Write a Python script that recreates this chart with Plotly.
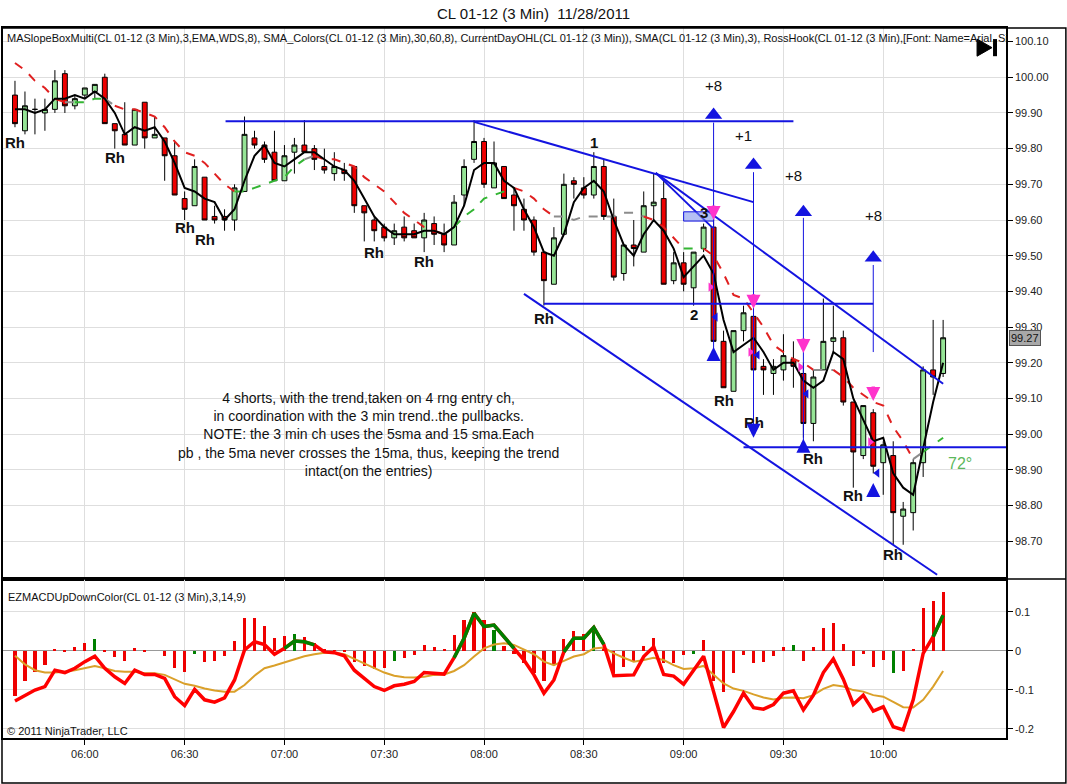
import plotly.graph_objects as go
from plotly.subplots import make_subplots

# ---------------- data ----------------
open_ = [99.95, 99.85, 99.91, 99.90, 99.91, 100.01, 99.92, 99.95, 99.96, 100.00,
         99.87, 99.84, 99.81, 99.93, 99.83, 99.83, 99.78, 99.66, 99.64, 99.72,
         99.61, 99.61, 99.60, 99.68, 99.83, 99.81, 99.79, 99.71, 99.79, 99.81,
         99.80, 99.75, 99.73, 99.74, 99.75, 99.64, 99.60, 99.58, 99.55, 99.58,
         99.57, 99.55, 99.59, 99.56, 99.53, 99.67, 99.77, 99.82, 99.69, 99.75,
         99.67, 99.63, 99.60, 99.51, 99.42, 99.56, 99.71, 99.69, 99.67, 99.75,
         99.61, 99.45, 99.53, 99.51, 99.64, 99.66, 99.43, 99.48, 99.41, 99.52,
         99.58, 99.26, 99.12, 99.29, 99.33, 99.19, 99.17, 99.18, 99.21, 99.17,
         99.03, 99.18, 99.26, 99.27, 99.09, 98.94, 99.06, 98.92, 98.94, 98.77,
         98.78, 98.92, 99.18, 99.17]
high = [99.99, 99.96, 99.94, 99.94, 100.02, 100.02, 99.95, 99.97, 99.98, 100.01,
        99.87, 99.93, 99.91, 99.93, 99.89, 99.83, 99.82, 99.68, 99.77, 99.72,
        99.64, 99.63, 99.70, 99.89, 99.85, 99.82, 99.85, 99.81, 99.83, 99.88,
        99.81, 99.80, 99.79, 99.76, 99.75, 99.64, 99.61, 99.59, 99.59, 99.61,
        99.59, 99.62, 99.61, 99.59, 99.67, 99.77, 99.88, 99.83, 99.82, 99.75,
        99.69, 99.66, 99.61, 99.51, 99.58, 99.73, 99.72, 99.72, 99.79, 99.77,
        99.66, 99.53, 99.60, 99.68, 99.73, 99.71, 99.51, 99.51, 99.51, 99.59,
        99.62, 99.29, 99.29, 99.36, 99.33, 99.21, 99.21, 99.28, 99.26, 99.20,
        99.18, 99.38, 99.36, 99.29, 99.09, 99.08, 99.07, 98.98, 98.98, 98.81,
        98.93, 99.19, 99.32, 99.32]
low = [99.86, 99.84, 99.84, 99.85, 99.90, 99.90, 99.91, 99.94, 99.94, 99.87,
       99.80, 99.81, 99.81, 99.80, 99.83, 99.71, 99.67, 99.60, 99.64, 99.60,
       99.59, 99.57, 99.57, 99.68, 99.80, 99.76, 99.71, 99.71, 99.73, 99.79,
       99.74, 99.73, 99.71, 99.71, 99.62, 99.54, 99.54, 99.54, 99.53, 99.54,
       99.55, 99.51, 99.53, 99.51, 99.53, 99.64, 99.76, 99.69, 99.69, 99.66,
       99.57, 99.57, 99.50, 99.36, 99.42, 99.56, 99.66, 99.66, 99.66, 99.60,
       99.43, 99.43, 99.47, 99.51, 99.60, 99.42, 99.42, 99.40, 99.36, 99.51,
       99.26, 99.13, 99.12, 99.26, 99.07, 99.11, 99.11, 99.15, 99.13, 98.99,
       98.98, 99.18, 99.23, 99.08, 98.85, 98.93, 98.89, 98.83, 98.69, 98.69,
       98.73, 98.88, 99.11, 99.16]
close = [99.87, 99.92, 99.91, 99.91, 99.99, 99.92, 99.94, 99.97, 99.98, 99.87,
         99.85, 99.81, 99.91, 99.83, 99.84, 99.78, 99.67, 99.63, 99.75, 99.60,
         99.60, 99.60, 99.69, 99.84, 99.81, 99.77, 99.71, 99.78, 99.81, 99.79,
         99.77, 99.74, 99.75, 99.73, 99.64, 99.62, 99.57, 99.55, 99.57, 99.55,
         99.55, 99.60, 99.56, 99.53, 99.65, 99.75, 99.82, 99.70, 99.76, 99.66,
         99.64, 99.60, 99.51, 99.43, 99.55, 99.70, 99.70, 99.67, 99.75, 99.61,
         99.44, 99.53, 99.52, 99.64, 99.65, 99.42, 99.48, 99.42, 99.51, 99.58,
         99.26, 99.13, 99.29, 99.34, 99.18, 99.18, 99.19, 99.22, 99.19, 99.03,
         99.16, 99.26, 99.27, 99.09, 98.95, 99.08, 98.91, 98.97, 98.78, 98.79,
         98.92, 99.18, 99.16, 99.27]
sma3 = [99.91, 99.91, 99.90, 99.91, 99.94, 99.94, 99.95, 99.94, 99.96, 99.94,
        99.90, 99.84, 99.86, 99.85, 99.86, 99.82, 99.76, 99.69, 99.68, 99.66,
        99.65, 99.60, 99.63, 99.71, 99.78, 99.81, 99.76, 99.75, 99.77, 99.79,
        99.79, 99.77, 99.75, 99.74, 99.71, 99.66, 99.61, 99.58, 99.56, 99.56,
        99.56, 99.57, 99.57, 99.56, 99.58, 99.64, 99.74, 99.76, 99.76, 99.71,
        99.69, 99.63, 99.58, 99.51, 99.50, 99.56, 99.65, 99.69, 99.71, 99.68,
        99.60, 99.53, 99.50, 99.56, 99.60, 99.57, 99.52, 99.44, 99.47, 99.50,
        99.45, 99.32, 99.23, 99.25, 99.27, 99.23, 99.18, 99.20, 99.20, 99.15,
        99.13, 99.15, 99.23, 99.21, 99.10, 99.04, 98.98, 98.99, 98.89, 98.85,
        98.83, 98.96, 99.09, 99.20]
slope_ma = [100.04, 100.02, 99.99, 99.97, 99.94, 99.93, 99.93, 99.93, 99.94, 99.94,
            99.92, 99.91, 99.91, 99.90, 99.89, 99.86, 99.82, 99.79, 99.78, 99.76,
            99.73, 99.70, 99.68, 99.68, 99.69, 99.70, 99.71, 99.72, 99.75, 99.77,
            99.78, 99.77, 99.77, 99.76, 99.75, 99.72, 99.70, 99.68, 99.65, 99.62,
            99.60, 99.58, 99.57, 99.56, 99.58, 99.61, 99.63, 99.66, 99.67, 99.68,
            99.69, 99.68, 99.66, 99.63, 99.61, 99.61, 99.60, 99.61, 99.61, 99.61,
            99.61, 99.62, 99.62, 99.61, 99.60, 99.58, 99.55, 99.52, 99.52, 99.52,
            99.50, 99.45, 99.39, 99.38, 99.34, 99.30, 99.25, 99.23, 99.21, 99.20,
            99.18, 99.18, 99.18, 99.16, 99.13, 99.11, 99.09, 99.08, 99.02, 98.98,
            98.93, 98.95, 98.97, 98.99]
# slope state of each segment of the dashed MA: d=down, u=up, f=flat
slope_state = ("ddddd" "f" "uuu" "f" "dddddddddddd" "uuuuuuu" "f" "ddddddddddddd" "f"
               "uuuuuu" "dddd" "fffffffff" "dddd" "uu" "ddddddddddd" "ff" "dddddddd" "f" "uu")

macd = [-0.129, -0.114, -0.101, -0.092, -0.050, -0.056, -0.045, -0.028, -0.014, -0.045,
        -0.067, -0.084, -0.050, -0.061, -0.061, -0.071, -0.118, -0.141, -0.099, -0.126,
        -0.132, -0.121, -0.075, 0.002, 0.023, 0.016, -0.009, 0.006, 0.025, 0.023,
        0.015, -0.003, -0.005, -0.013, -0.050, -0.071, -0.092, -0.102, -0.090, -0.086,
        -0.079, -0.056, -0.058, -0.060, -0.018, 0.032, 0.096, 0.062, 0.066, 0.036,
        0.006, -0.024, -0.062, -0.109, -0.075, -0.003, 0.032, 0.032, 0.060, 0.016,
        -0.064, -0.062, -0.062, -0.015, 0.010, -0.061, -0.065, -0.086, -0.050, -0.014,
        -0.105, -0.197, -0.156, -0.109, -0.146, -0.150, -0.138, -0.109, -0.103, -0.152,
        -0.114, -0.056, -0.021, -0.073, -0.138, -0.114, -0.155, -0.144, -0.195, -0.203,
        -0.126, -0.007, 0.036, 0.091]
macd_up_runs = [(27, 30), (44, 50), (55, 59), (92, 93)]
signal = [-0.013, -0.035, -0.050, -0.056, -0.056, -0.054, -0.050, -0.045, -0.039, -0.045,
          -0.052, -0.054, -0.054, -0.058, -0.058, -0.062, -0.074, -0.085, -0.090, -0.097,
          -0.102, -0.105, -0.105, -0.088, -0.064, -0.045, -0.038, -0.030, -0.021, -0.014,
          -0.009, -0.005, -0.005, -0.009, -0.021, -0.032, -0.045, -0.056, -0.064, -0.068,
          -0.069, -0.067, -0.062, -0.061, -0.052, -0.037, -0.015, 0.006, 0.016, 0.019,
          0.015, 0.003, -0.009, -0.028, -0.037, -0.026, -0.015, -0.009, 0.006, 0.008,
          -0.007, -0.018, -0.028, -0.024, -0.018, -0.024, -0.037, -0.047, -0.045, -0.039,
          -0.062, -0.084, -0.097, -0.103, -0.112, -0.120, -0.125, -0.121, -0.120, -0.122,
          -0.114, -0.098, -0.088, -0.092, -0.101, -0.105, -0.114, -0.118, -0.131, -0.145,
          -0.146, -0.126, -0.092, -0.052]
hist = [-0.115, -0.079, -0.054, -0.037, 0.004, -0.002, 0.009, 0.021, 0.030, -0.003,
        -0.015, -0.026, 0.006, -0.003, 0.000, -0.013, -0.044, -0.054, -0.009, -0.030,
        -0.027, -0.013, 0.025, 0.083, 0.085, 0.064, 0.032, 0.038, 0.044, 0.034,
        0.019, 0.003, 0.001, -0.003, -0.030, -0.039, -0.047, -0.045, -0.026, -0.020,
        -0.011, 0.015, 0.010, 0.004, 0.040, 0.080, 0.099, 0.080, 0.053, 0.012,
        -0.009, -0.032, -0.058, -0.078, -0.037, 0.029, 0.050, 0.042, 0.062, 0.010,
        -0.058, -0.041, -0.030, 0.012, 0.032, -0.032, -0.032, -0.011, -0.009, 0.027,
        -0.079, -0.107, -0.056, -0.011, -0.032, -0.028, -0.013, 0.010, 0.015, -0.026,
        0.010, 0.057, 0.072, 0.016, -0.038, -0.009, -0.041, -0.024, -0.058, -0.052,
        0.004, 0.109, 0.127, 0.151]
hist_up = ("rrrrrrrrg" "r" * 13 + "ggggggggg" "rr" "g" "rrrrrrrrrr" "ggggggg" "rrrr"
           "ggggg" "rrrr" "g" "rrrr" "g" "rrrrrrrrrrr" "ggg" "rrrrrrr" "ggg")

tick_pos = [7, 17, 27, 37, 47, 57, 67, 77, 87]
tick_labels = ["06:00", "06:30", "07:00", "07:30", "08:00", "08:30", "09:00", "09:30", "10:00"]
price_ticks = [98.7, 98.8, 98.9, 99.0, 99.1, 99.2, 99.3, 99.4, 99.5, 99.6, 99.7, 99.8, 99.9, 100.0, 100.1]
macd_ticks = [-0.2, -0.1, 0.0, 0.1]
macd_tick_labels = ["-0.2", "-0.1", "0", "0.1"]

# drawing objects (bar index, price)
hlines = [(21.1, 78.0, 99.877), (53.0, 86.0, 99.365), (73.0, 99.3, 98.963)]
diag_lines = [(46.0, 99.875, 74.0, 99.650), (64.2, 99.732, 69.9, 99.578),
              (64.2, 99.732, 93.0, 99.141), (51.0, 99.393, 92.4, 98.606)]
target_x = [70, 74, 79, 86]
target_top = [99.873, 99.734, 99.606, 99.474]
target_bottom = [99.236, 99.010, 98.970, 99.230]
target_arrow_y = [99.894, 99.754, 99.622, 99.494]
target_text = ["+8", "+1", "+8", "+8"]
target_text_x = [70, 73, 78, 86]
target_text_y = [99.978, 99.838, 99.726, 99.614]
rh_x = [0, 10, 17, 19, 36, 41, 53, 71, 74, 80, 84, 88]
rh_y = [99.816, 99.774, 99.578, 99.544, 99.508, 99.485, 99.323, 99.093, 99.032, 98.933, 98.827, 98.664]
swing_text = ["1", "2", "3"]
swing_x = [58, 68, 69]
swing_y = [99.818, 99.334, 99.620]
entry_down_x = [70, 74, 79, 86]
entry_down_y = [99.600, 99.351, 99.227, 99.093]
entry_up_x = [70, 79, 86]
entry_up_y = [99.244, 98.987, 98.863]
exit_down_x = [74]
exit_down_y = [98.990]
pink_tri_x = [69.7, 73.7, 78.7, 85.7]
pink_tri_y = [99.412, 99.230, 99.188, 98.978]
blue_tri_x = [70.2, 74.4, 79.3, 86.4]
blue_tri_y = [99.328, 99.222, 99.113, 98.891]
note_text = ("4 shorts, with the trend,taken on 4 rng entry ch,<br>"
             "in coordination with the 3 min trend..the pullbacks.<br>"
             "NOTE: the 3 min ch uses the 5sma and 15 sma.Each<br>"
             "pb , the 5ma never crosses the 15ma, thus, keeping the trend<br>"
             "intact(on the entries)")
header_text = ("MASlopeBoxMulti(CL 01-12 (3 Min),3,EMA,WDS,8), SMA_Colors(CL 01-12 (3 Min),30,60,8), "
               "CurrentDayOHL(CL 01-12 (3 Min)), SMA(CL 01-12 (3 Min),3), "
               "RossHook(CL 01-12 (3 Min),[Font: Name=Arial, Si")

# ---------------- figure ----------------
FONT = "Liberation Sans, Arial, sans-serif"
BLUE = "#1414e0"
x = list(range(len(close)))

fig = make_subplots(rows=2, cols=1, shared_xaxes=True, vertical_spacing=0,
                    row_heights=[0.7761, 0.2239])

fig.add_trace(go.Candlestick(
    x=x, open=open_, high=high, low=low, close=close,
    increasing=dict(fillcolor="#96e496", line=dict(color="black", width=1)),
    decreasing=dict(fillcolor="#ee0000", line=dict(color="black", width=1)),
    whiskerwidth=0, showlegend=False, hoverinfo="skip"), row=1, col=1)

# dashed slope-coloured MA
state_color = {"d": "#e02020", "u": "#33b533", "f": "#8c8c8c"}
i = 0
while i < len(slope_state):
    j = i
    while j + 1 < len(slope_state) and slope_state[j + 1] == slope_state[i]:
        j += 1
    fig.add_trace(go.Scatter(x=x[i:j + 2], y=slope_ma[i:j + 2], mode="lines",
                             line=dict(color=state_color[slope_state[i]], width=2, dash="dash"),
                             showlegend=False, hoverinfo="skip"), row=1, col=1)
    i = j + 1

fig.add_trace(go.Scatter(x=x, y=sma3, mode="lines", line=dict(color="black", width=2),
                         showlegend=False, hoverinfo="skip"), row=1, col=1)

# MACD panel
fig.add_trace(go.Bar(x=x, y=hist, width=0.32,
                     marker=dict(color=["#008000" if c == "g" else "#ee0000" for c in hist_up], line=dict(width=0)),
                     showlegend=False, hoverinfo="skip"), row=2, col=1)
fig.add_trace(go.Scatter(x=x, y=signal, mode="lines", line=dict(color="#daa02a", width=2),
                         showlegend=False, hoverinfo="skip"), row=2, col=1)
fig.add_trace(go.Scatter(x=x, y=macd, mode="lines", line=dict(color="#ff0000", width=3.5),
                         showlegend=False, hoverinfo="skip"), row=2, col=1)
for a, b in macd_up_runs:
    fig.add_trace(go.Scatter(x=x[a:b + 1], y=macd[a:b + 1], mode="lines",
                             line=dict(color="#008000", width=3.5),
                             showlegend=False, hoverinfo="skip"), row=2, col=1)

# drawing objects
shapes = []
for x0, x1, yv in hlines:
    shapes.append(dict(type="line", xref="x", yref="y", x0=x0, x1=x1, y0=yv, y1=yv,
                       line=dict(color=BLUE, width=2)))
for x0, y0, x1, y1 in diag_lines:
    shapes.append(dict(type="line", xref="x", yref="y", x0=x0, x1=x1, y0=y0, y1=y1,
                       line=dict(color=BLUE, width=2)))
for tx, t0, t1 in zip(target_x, target_top, target_bottom):
    shapes.append(dict(type="line", xref="x", yref="y", x0=tx, x1=tx, y0=t0, y1=t1,
                       line=dict(color=BLUE, width=1)))
shapes.append(dict(type="rect", xref="x", yref="y", x0=67.0, x1=70.0, y0=99.597, y1=99.623,
                   fillcolor="rgba(120,140,235,0.55)", line=dict(color=BLUE, width=1)))
# "go to end" icon
shapes.append(dict(type="path", xref="x", yref="y",
                   path="M 96.4 100.107 L 97.9 100.083 L 96.4 100.059 Z",
                   fillcolor="black", line=dict(color="black", width=1)))
shapes.append(dict(type="rect", xref="x", yref="y", x0=98.0, x1=98.4, y0=100.059, y1=100.107,
                   fillcolor="black", line=dict(color="black", width=0)))
# outer frame and panel separator
shapes.append(dict(type="rect", xref="paper", yref="paper", x0=-0.001, x1=1.0597, y0=-0.0634, y1=1.0,
                   line=dict(color="black", width=1.5)))
shapes.append(dict(type="line", xref="paper", yref="paper", x0=-0.001, x1=1.0597, y0=0.2239, y1=0.2239,
                   line=dict(color="black", width=1.5)))

fig.add_trace(go.Scatter(x=target_x, y=target_arrow_y, mode="markers",
                         marker=dict(symbol="triangle-up", size=15, color=BLUE),
                         showlegend=False, hoverinfo="skip"), row=1, col=1)
fig.add_trace(go.Scatter(x=pink_tri_x, y=pink_tri_y, mode="markers",
                         marker=dict(symbol="triangle-right", size=8, color="#ff33cc"),
                         showlegend=False, hoverinfo="skip"), row=1, col=1)
fig.add_trace(go.Scatter(x=blue_tri_x, y=blue_tri_y, mode="markers",
                         marker=dict(symbol="triangle-left", size=8, color=BLUE),
                         showlegend=False, hoverinfo="skip"), row=1, col=1)

ann = []
for rx, ry in zip(rh_x, rh_y):
    ann.append(dict(x=rx, y=ry, xref="x", yref="y", text="<b>Rh</b>", showarrow=False,
                    font=dict(family=FONT, size=15, color="#111")))
for t, sx, sy in zip(swing_text, swing_x, swing_y):
    ann.append(dict(x=sx, y=sy, xref="x", yref="y", text="<b>%s</b>" % t, showarrow=False,
                    font=dict(family=FONT, size=15, color="#111")))
for t, sx, sy in zip(target_text, target_text_x, target_text_y):
    ann.append(dict(x=sx, y=sy, xref="x", yref="y", text=t, showarrow=False,
                    font=dict(family=FONT, size=15, color="#111")))
for ex, ey in zip(entry_down_x, entry_down_y):
    ann.append(dict(x=ex, y=ey, xref="x", yref="y", text="", showarrow=True, ax=0, ay=-16,
                    arrowhead=2, arrowsize=0.8, arrowwidth=3.5, arrowcolor="#ff33cc"))
for ex, ey in zip(entry_up_x, entry_up_y):
    ann.append(dict(x=ex, y=ey, xref="x", yref="y", text="", showarrow=True, ax=0, ay=14,
                    arrowhead=2, arrowsize=0.8, arrowwidth=3.5, arrowcolor=BLUE))
for ex, ey in zip(exit_down_x, exit_down_y):
    ann.append(dict(x=ex, y=ey, xref="x", yref="y", text="", showarrow=True, ax=0, ay=-14,
                    arrowhead=2, arrowsize=0.8, arrowwidth=3.5, arrowcolor=BLUE))
ann.append(dict(x=94.7, y=98.919, xref="x", yref="y", text="72°", showarrow=False,
                font=dict(family=FONT, size=16, color="#5cb85c")))
ann.append(dict(x=35.4, y=98.998, xref="x", yref="y", text=note_text, showarrow=False,
                align="center", font=dict(family=FONT, size=14, color="#111")))
ann.append(dict(x=0.002, y=0.997, xref="paper", yref="paper", text=header_text, showarrow=False,
                xanchor="left", yanchor="top", font=dict(family=FONT, size=11, color="#111")))
ann.append(dict(x=0.003, y=0.1986, xref="paper", yref="paper",
                text="EZMACDUpDownColor(CL 01-12 (3 Min),3,14,9)", showarrow=False,
                xanchor="left", yanchor="middle", font=dict(family=FONT, size=11, color="#111")))
ann.append(dict(x=0.002, y=0.0099, xref="paper", yref="paper", text="© 2011 NinjaTrader, LLC",
                showarrow=False, xanchor="left", yanchor="middle",
                font=dict(family=FONT, size=11, color="#111")))
ann.append(dict(x=1.0, y=close[-1], xref="paper", yref="y", text="%.2f" % close[-1], showarrow=False,
                xanchor="left", xshift=3, bgcolor="#a8a8a8", bordercolor="#555", borderwidth=1,
                borderpad=1, font=dict(family=FONT, size=11, color="#111")))

axis_common = dict(showline=True, mirror=True, linecolor="black", linewidth=1.5,
                   gridcolor="#dedede", gridwidth=1, zeroline=False)

fig.update_layout(
    width=1067, height=784,
    margin=dict(l=1, r=61, t=28, b=46),
    paper_bgcolor="white", plot_bgcolor="white",
    title=dict(text="CL 01-12 (3 Min)  11/28/2011", x=0.5, xanchor="center",
               y=0.983, yanchor="middle", yref="container",
               font=dict(family=FONT, size=15, color="#111")),
    shapes=shapes, annotations=ann, bargap=0, showlegend=False,
)
fig.update_xaxes(range=[-1.2, 99.3], tickvals=tick_pos, ticktext=tick_labels,
                 rangeslider=dict(visible=False), **axis_common)
fig.update_xaxes(showticklabels=False, ticks="", row=1, col=1)
fig.update_xaxes(ticks="outside", ticklen=5, tickcolor="black",
                 tickfont=dict(family=FONT, size=11, color="#222"), row=2, col=1)
fig.update_yaxes(side="right", range=[98.594, 100.138], tickvals=price_ticks, tickformat=".2f",
                 ticks="outside", ticklen=5, tickcolor="black",
                 tickfont=dict(family=FONT, size=11, color="#222"), row=1, col=1, **axis_common)
fig.update_yaxes(side="right", range=[-0.224, 0.184], tickvals=macd_ticks, ticktext=macd_tick_labels,
                 ticks="outside", ticklen=5, tickcolor="black",
                 tickfont=dict(family=FONT, size=11, color="#222"), row=2, col=1,
                 showline=True, mirror=True, linecolor="black", linewidth=1.5,
                 gridcolor="#dedede", zeroline=True, zerolinecolor="#999999", zerolinewidth=1)

fig.write_html("out.html", config={"displayModeBar": False},
               post_script="document.body.style.margin='0';document.body.style.overflow='hidden';")
